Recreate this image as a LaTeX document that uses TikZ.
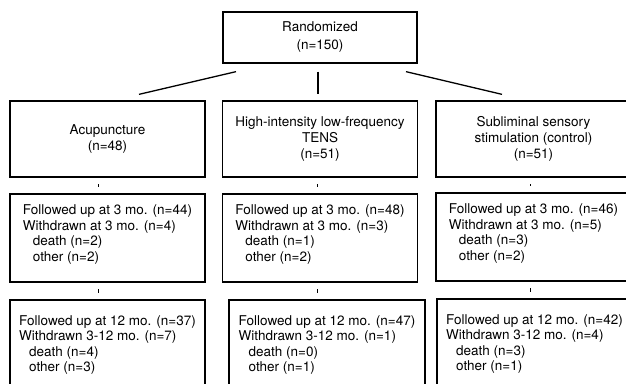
\documentclass[tikz,border=0pt]{standalone}
\usepackage{fontspec}
\setmainfont{TeX Gyre Heros}
\usetikzlibrary{calc}
\newcommand{\subline}{\hspace*{10pt}}

\begin{document}
\begin{tikzpicture}[x=1pt,y=1pt,every node/.style={font=\fontsize{13.5}{16}\selectfont}]
\tikzset{block/.style={draw,line width=1.3pt,minimum width=195pt,align=center,inner sep=0pt},
  head/.style={block,minimum height=76pt},
  tally/.style={block,align=left,minimum height=88pt,font=\fontsize{13.5}{15.6}\selectfont},
  link/.style={line width=1.3pt},
  tick/.style={line width=1pt,shorten <=6.5pt,shorten >=6.5pt}}
\useasboundingbox (0,0) rectangle (626,-383);
\node[block,minimum width=194pt,minimum height=51pt,font=\fontsize{13.5}{18}\selectfont] (rand) at (320,-37.5) {Randomized\\(n=150)};
\node[head] (acu) at (107.5,-139) {Acupuncture\\(n=48)};
\node[head] (tens) at (320,-139) {High-intensity low-frequency\\TENS\\(n=51)};
\node[head] (sss) at (533.5,-139) {Subliminal sensory\\stimulation (control)\\(n=51)};
\node[tally,text depth=10pt] (acu3) at (107.5,-238) {Followed up at 3 mo. (n=44)\\Withdrawn at 3 mo. (n=4)\\\subline death (n=2)\\\subline other (n=2)};
\node[tally,text depth=10pt] (tens3) at (320,-238) {Followed up at 3 mo. (n=48)\\Withdrawn at 3 mo. (n=3)\\\subline death (n=1)\\\subline other (n=2)};
\node[tally,text depth=10pt] (sss3) at (533.5,-237) {Followed up at 3 mo. (n=46)\\Withdrawn at 3 mo. (n=5)\\\subline death (n=3)\\\subline other (n=2)};
\node[tally,minimum height=90pt] (acu12) at (107.5,-345) {Followed up at 12 mo. (n=37)\\Withdrawn 3-12 mo. (n=7)\\\subline death (n=4)\\\subline other (n=3)};
\node[tally,minimum height=90pt,minimum width=196pt] (tens12) at (327,-345) {Followed up at 12 mo. (n=47)\\Withdrawn 3-12 mo. (n=1)\\\subline death (n=0)\\\subline other (n=1)};
\node[tally,minimum height=90pt] (sss12) at (534.5,-344) {Followed up at 12 mo. (n=42)\\Withdrawn 3-12 mo. (n=4)\\\subline death (n=3)\\\subline other (n=1)};
% randomisation arms
\draw[link] ([xshift=-84pt,yshift=-8pt]rand.south) -- ([xshift=31.5pt,yshift=6pt]acu.north);
\draw[link] ([xshift=-2pt,yshift=-8pt]rand.south) -- ([xshift=-2pt,yshift=6pt]tens.north);
\draw[link] ([xshift=86pt,yshift=-8pt]rand.south) -- ([xshift=-31.5pt,yshift=6pt]sss.north);
% follow-up ticks
\draw[tick] ([xshift=-9.5pt]acu.south) -- ([xshift=-9.5pt]acu.south |- acu3.north);
\draw[tick] ([xshift=-3pt]tens.south) -- ([xshift=-3pt]tens.south |- tens3.north);
\draw[tick] ([xshift=-3.5pt]sss.south) -- ([xshift=-3.5pt]sss.south |- sss3.north);
\draw[tick] ([xshift=-9.5pt]acu3.south) -- ([xshift=-9.5pt]acu3.south |- acu12.north);
\draw[tick] ([xshift=-3pt]tens3.south) -- ([xshift=-3pt]tens3.south |- tens12.north);
\draw[tick] ([xshift=-3.5pt]sss3.south) -- ([xshift=-3.5pt]sss3.south |- sss12.north);
\end{tikzpicture}
\end{document}
